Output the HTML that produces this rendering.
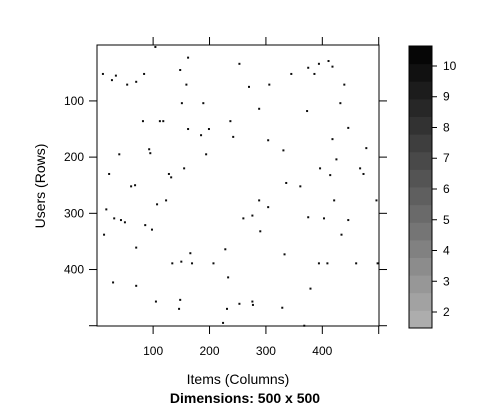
<!DOCTYPE html>
<html><head><meta charset="utf-8"><style>
html,body{margin:0;padding:0;background:#fff;}
svg{display:block;font-family:"Liberation Sans",Arial,sans-serif;}
</style></head><body>
<svg id="chart" width="491" height="412" viewBox="0 0 491 412">
<rect x="0" y="0" width="491" height="412" fill="#fff"/>
<g id="marks"></g>
<rect x="97" y="45" width="282" height="281" fill="none" stroke="#000" stroke-width="1"/>
<g id="axes"></g>
<g id="cbar"></g>
<text x="238" y="384" text-anchor="middle" font-size="14">Items (Columns)</text>
<text x="245" y="403" text-anchor="middle" font-size="14" font-weight="bold">Dimensions: 500 x 500</text>
<text transform="translate(45,186) rotate(-90)" text-anchor="middle" font-size="14">Users (Rows)</text>
</svg>
<script>
const cols=[104,162,253,11,84,148,27,34,70,54,159,151,189,82,112,118,237,162,199,185,242,93,95,40,194,155,22,128,132,411,375,394,418,345,386,270,306,439,432,288,373,446,304,418,331,478,425,396,467,414,473,336,61,68,107,123,17,31,43,50,86,98,13,70,166,228,134,150,169,207,233,29,70,105,148,146,231,253,224,361,288,421,496,304,260,276,375,403,446,290,434,333,394,409,460,498,379,276,277,329,368];
const rows=[4,23,34,52,52,45,63,55,66,71,71,104,104,136,136,136,136,150,150,161,164,186,193,195,195,220,230,230,236,29,41,34,39,52,52,75,71,71,104,114,118,148,170,168,188,184,204,220,220,232,230,246,252,250,284,277,293,309,312,316,321,329,338,361,371,364,389,386,389,389,414,423,429,457,454,470,470,461,495,252,277,277,277,289,309,304,307,309,312,332,338,373,389,389,389,389,434,457,463,468,500];
const vals=rows.map(()=>10);
const xTicks=[100,200,300,400,500];
const xTickLabels=["100","200","300","400",""];
const yTicks=[100,200,300,400,500];
const yTickLabels=["100","200","300","400",""];
const cbTicks=[2,3,4,5,6,7,8,9,10];
const cbMin=1.48, cbMax=10.65, cbBands=16;
const NS="http://www.w3.org/2000/svg";
function sx(c){return 97+(c-0.5)*282/500;}
function sy(r){return 45+(r-0.5)*281/500;}
function cy(v){return 328-(v-cbMin)/(cbMax-cbMin)*282;}
function grey(v){const t=Math.max(0,Math.min(1,(v-cbMin)/(cbMax-cbMin)));const g=Math.round(179*(1-t));return `rgb(${g},${g},${g})`;}
function mk(tag,a,p){const e=document.createElementNS(NS,tag);for(const k in a)e.setAttribute(k,a[k]);p.appendChild(e);return e;}
const marks=document.getElementById('marks');
for(let i=0;i<cols.length;i++){
 const r=mk('rect',{x:sx(cols[i])-1,y:sy(rows[i])-1,width:2,height:2,fill:grey(vals[i])},marks);
 
 
}
const axes=document.getElementById('axes');
xTicks.forEach((t,i)=>{
 const x=sx(t);
 const a=mk('line',{x1:x,x2:x,y1:326,y2:334,stroke:'#000'},axes);
 
 
 const b=mk('line',{x1:x,x2:x,y1:45,y2:37,stroke:'#000'},axes);
 
 
 if(xTickLabels[i]){const tx=mk('text',{x:x,y:355,'text-anchor':'middle','font-size':12},axes);tx.textContent=xTickLabels[i];
 
 }
});
yTicks.forEach((t,i)=>{
 const y=sy(t);
 const a=mk('line',{x1:97,x2:89,y1:y,y2:y,stroke:'#000'},axes);
 
 
 const b=mk('line',{x1:379,x2:387,y1:y,y2:y,stroke:'#000'},axes);
 
 
 if(yTickLabels[i]){const tx=mk('text',{x:84,y:y+4,'text-anchor':'end','font-size':12},axes);tx.textContent=yTickLabels[i];
 
 }
});
const cb=document.getElementById('cbar');
const step=(cbMax-cbMin)/cbBands;
for(let i=0;i<cbBands;i++){
 const v0=cbMin+i*step,v1=v0+step;
 const r=mk('rect',{x:409,y:cy(v1),width:23,height:cy(v0)-cy(v1)+0.5,fill:grey(v0+step/2)},cb);
 
 
}
const fr=mk('rect',{x:409,y:46,width:23,height:282,fill:'none',stroke:'#000'},cb);


cbTicks.forEach(t=>{
 const y=cy(t);
 const l=mk('line',{x1:432,x2:437,y1:y,y2:y,stroke:'#000'},cb);
 
 
 const tx=mk('text',{x:443,y:y+4,'font-size':12},cb);tx.textContent=String(t);
 
 
});
</script>
</body></html>
